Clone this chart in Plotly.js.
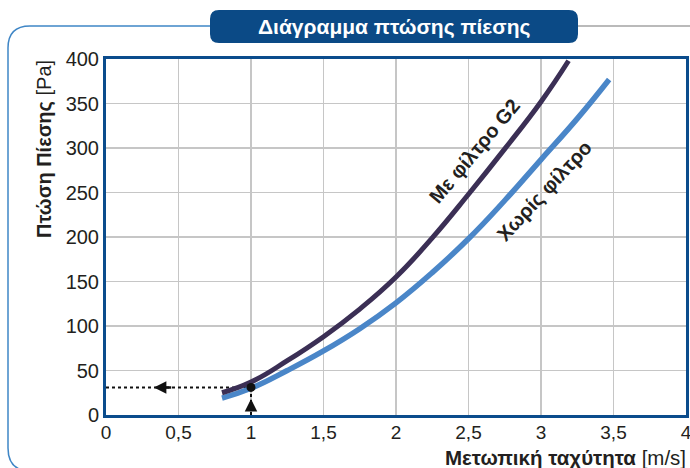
<!DOCTYPE html>
<html>
<head>
<meta charset="utf-8">
<script src="https://cdn.plot.ly/plotly-3.0.1.min.js"></script>
<style>html,body{margin:0;padding:0;background:#fff;}#chart{width:690px;height:468px;}</style>
</head>
<body>
<div id="chart"></div>
<script>
// Data
const velWithFilter = [0.8, 1.0, 1.25, 1.5, 1.75, 2.0, 2.25, 2.5, 2.75, 3.0, 3.19];
const dpWithFilter  = [25, 37, 61, 88, 119, 155, 199, 248, 299, 352, 398];
const velNoFilter   = [0.8, 1.0, 1.25, 1.5, 1.75, 2.0, 2.25, 2.5, 2.75, 3.0, 3.25, 3.47];
const dpNoFilter    = [19, 30, 50, 72, 97, 126, 160, 198, 241, 287, 333, 377];
const opPointV = [1.0];
const opPointP = [31];
const xTickVals = [0, 0.5, 1, 1.5, 2, 2.5, 3, 3.5, 4];
const xTickText = ['0', '0,5', '1', '1,5', '2', '2,5', '3', '3,5', '4'];
const yTickVals = [0, 50, 100, 150, 200, 250, 300, 350, 400];
const labelWith = 'Με φίλτρο G2';
const labelWithout = 'Χωρίς φίλτρο';
const chartTitle = 'Διάγραμμα πτώσης πίεσης';
const xTitle = '<b>Μετωπική ταχύτητα</b> [m/s]';
const yTitle = '<b>Πτώση Πίεσης</b> [Pa]';

const W = 690, H = 468, ML = 106, MR = 4, MT = 59, MB = 53;
const PW = W - ML - MR, PH = H - MT - MB;
const px = v => (v - ML) / PW;
const py = v => (H - MB - v) / PH;

function roundRect(x0p, y0p, x1p, y1p, r) {
  const x0 = px(x0p), x1 = px(x1p), yt = py(y0p), yb = py(y1p);
  const rx = r / PW, ry = r / PH;
  return `M ${x0+rx},${yt} L ${x1-rx},${yt} Q ${x1},${yt} ${x1},${yt-ry} L ${x1},${yb+ry} Q ${x1},${yb} ${x1-rx},${yb} L ${x0+rx},${yb} Q ${x0},${yb} ${x0},${yb+ry} L ${x0},${yt-ry} Q ${x0},${yt} ${x0+rx},${yt} Z`;
}

const dark = '#3b2f55', light = '#4a86c8', frameBlue = '#0b4c8c';
const txt = '#231f20';

const traces = [
  {x: [0, opPointV[0]], y: [opPointP[0], opPointP[0]], mode: 'lines', line: {color: '#111', width: 2, dash: 'dot'}, hoverinfo: 'skip'},
  {x: [opPointV[0], opPointV[0]], y: [0, opPointP[0]], mode: 'lines', line: {color: '#111', width: 2, dash: 'dot'}, hoverinfo: 'skip'},
  {x: velNoFilter, y: dpNoFilter, mode: 'lines', line: {color: light, width: 5.5, shape: 'spline', smoothing: 1.3}, name: labelWithout},
  {x: velWithFilter, y: dpWithFilter, mode: 'lines', line: {color: dark, width: 5, shape: 'spline', smoothing: 1.3}, name: labelWith},
  {x: opPointV, y: opPointP, mode: 'markers', marker: {color: '#111', size: 9}, hoverinfo: 'skip'}
];

const font = 'Liberation Sans, Arial, sans-serif';

const layout = {
  width: W, height: H,
  margin: {l: ML, r: MR, t: MT, b: MB},
  paper_bgcolor: '#fff', plot_bgcolor: '#fff',
  showlegend: false,
  font: {family: font, size: 19, color: txt},
  xaxis: {
    range: [0, 4], tickvals: xTickVals, ticktext: xTickText,
    showgrid: true, gridcolor: '#c6c6c6', gridwidth: 1.5,
    showline: true, linecolor: frameBlue, linewidth: 3, mirror: true,
    zeroline: false, ticks: '', ticklen: 0, ticklabeloverflow: 'allow',
    ticklabelstandoff: -2,
    tickfont: {family: font, size: 19, color: txt}
  },
  yaxis: {
    range: [0, 400], tickvals: yTickVals,
    showgrid: true, gridcolor: '#c6c6c6', gridwidth: 1.5,
    showline: true, linecolor: frameBlue, linewidth: 3, mirror: true,
    zeroline: false, ticks: '', ticklen: 0, ticklabeloverflow: 'allow',
    tickfont: {family: font, size: 20, color: txt}
  },
  shapes: [
    {type: 'path', xref: 'paper', yref: 'paper',
     path: `M ${px(210)},${py(26)} L ${px(30)},${py(26)} Q ${px(8)},${py(26)} ${px(8)},${py(48)} L ${px(8)},${py(448)} Q ${px(8)},${py(466)} ${px(22)},${py(470)}`,
     line: {color: '#3f86c6', width: 1.5}},
    {type: 'line', xref: 'paper', yref: 'paper', x0: px(578), x1: px(692), y0: py(26), y1: py(26),
     line: {color: '#a3a3a3', width: 1.5}},
    {type: 'path', xref: 'paper', yref: 'paper', path: roundRect(210, 10, 578, 43, 9),
     fillcolor: '#0b4a86', line: {width: 0}}
  ],
  annotations: [
    {text: '<b>' + chartTitle + '</b>', xref: 'paper', yref: 'paper', x: px(394), y: py(26.5),
     xanchor: 'center', yanchor: 'middle', showarrow: false,
     font: {family: font, size: 21, color: '#ffffff'}},
    {text: yTitle, xref: 'paper', yref: 'paper', x: px(44), y: py(149), textangle: -90,
     xanchor: 'center', yanchor: 'middle', showarrow: false,
     font: {family: font, size: 20, color: txt}},
    {text: xTitle, xref: 'paper', yref: 'paper', x: px(688), y: py(457),
     xanchor: 'right', yanchor: 'middle', showarrow: false,
     font: {family: font, size: 20.5, color: txt}},
    {text: '<b>' + labelWith + '</b>', x: 2.54, y: 297, textangle: -50, showarrow: false,
     xanchor: 'center', yanchor: 'middle', font: {family: font, size: 20, color: txt}},
    {text: '<b>' + labelWithout + '</b>', x: 3.02, y: 252, textangle: -47, showarrow: false,
     xanchor: 'center', yanchor: 'middle', font: {family: font, size: 20, color: txt}},
    {text: '', x: 0.33, y: 31, ax: 0.46, ay: 31, axref: 'x', ayref: 'y', showarrow: true,
     arrowhead: 2, arrowsize: 1, arrowwidth: 2.5, arrowcolor: '#111'},
    {text: '', x: 1, y: 18, ax: 1, ay: 3, axref: 'x', ayref: 'y', showarrow: true,
     arrowhead: 2, arrowsize: 1, arrowwidth: 2.5, arrowcolor: '#111'}
  ]
};

Plotly.newPlot('chart', traces, layout, {staticPlot: true, displayModeBar: false});
</script>
</body>
</html>
